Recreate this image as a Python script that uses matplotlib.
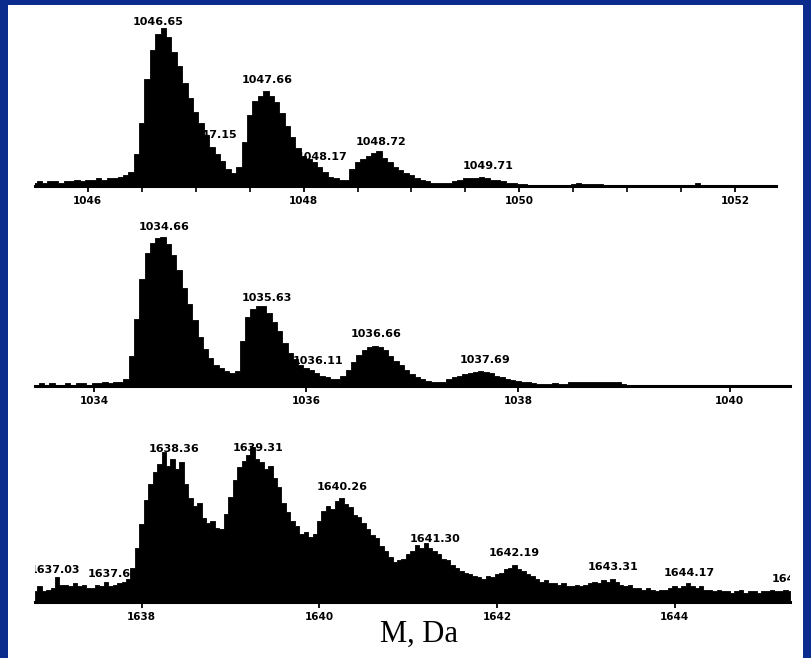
import numpy as np
import matplotlib
matplotlib.use("Agg")
import matplotlib.pyplot as plt
from matplotlib.patches import Rectangle

# ---------------- data ----------------
# panel 1 (profile sampled every 0.05 Da, relative intensity %)
p1_start = 1045.50
p1_step = 0.05
p1_values = [2, 3, 2, 3, 3, 2, 3, 3, 4, 3, 4,
             4, 5, 4, 5, 5, 6, 7,
             9, 20, 40, 68, 86, 96, 100, 94, 85, 76, 65, 56, 47, 40, 32, 25, 20, 16, 11, 8,
             12, 28, 45, 54, 57, 60, 57, 53, 46, 38, 31, 24, 19, 17, 15, 12, 9, 6, 5, 4, 4,
             11, 15, 17, 19, 21, 22, 18, 15, 12, 10, 8, 7, 5, 4, 3,
             2, 2, 2, 2, 3,
             4, 5, 5, 5, 6, 5, 4, 4, 3, 2, 2,
             1.5, 1,
             0.8, 0.5, 0.5, 0.5, 0.5, 0.5, 0.5, 0.5, 1, 2, 1, 1.5, 1, 1.5, 0.5, 0.5, 0.5, 0.5,
             0.5, 0.5, 0.5, 0.5, 0.5, 0.5, 0.5, 0.5, 0.5, 0.5, 0.5, 0.5, 0.5, 2, 0.5, 0.5, 0.5,
             0.5, 0.5, 0.5, 0.5, 0.5, 0.5, 0.5, 0.5, 0.5, 0.5, 0.5, 0.5]
p1_labels = ["1046.65", "1047.15", "1047.66", "1048.17", "1048.72", "1049.71"]
p1_ticks = [1046, 1048, 1050, 1052]
p1_minor = 0.5

# panel 2
p2_start = 1033.45
p2_step = 0.05
p2_values = [1, 2, 1, 2, 1, 1, 2, 1, 2, 2, 1, 2,
             2, 3, 2, 3, 3,
             5, 20, 45, 72, 89, 96, 99, 100, 95, 88, 78, 66, 55, 44, 33, 25, 19, 14, 12, 10, 9,
             10, 30, 46, 52, 54, 54, 49, 43, 37, 29, 22, 18, 14, 12, 11, 9, 7, 6, 4.5, 4.5,
             7, 11, 16, 21, 24, 26, 27, 26, 24, 20, 17, 14, 11, 8, 6, 4.5, 3.5, 3, 2.5,
             3, 4.5, 6, 7, 8, 8.5, 9.5, 10, 9.5, 8.5, 7, 6, 5, 4, 3.5, 3, 2.5, 2,
             1.5, 1.5, 1.5, 2, 1.5, 1.5,
             3, 3, 3, 3, 3, 3, 3, 3, 3, 2.5,
             1.5, 1, 1, 1, 1, 1, 1, 1, 1, 1, 1, 1, 1, 1, 1, 1, 1, 1, 1, 1, 1, 1, 1, 1,
             1, 1, 1, 1, 1, 1, 1, 1]
p2_labels = ["1034.66", "1035.63", "1036.11", "1036.66", "1037.69"]
p2_ticks = [1034, 1036, 1038, 1040]

# panel 3
p3_start = 1636.80
p3_step = 0.05
p3_values = [7, 10, 7, 8, 9, 16, 11, 11, 10, 12, 10, 11, 9, 9, 11, 10, 13, 10, 11, 12,
             13, 15, 22, 35, 50, 66, 76, 84, 89, 97, 88, 92, 86, 90, 76, 67, 62, 64, 54, 51,
             52, 48, 47, 57, 68, 79, 87, 91, 95, 100, 92, 90, 86, 88, 80, 74, 64, 58, 52, 49,
             44, 45, 42, 44, 52, 59, 62, 60, 65, 67, 63, 61, 56, 55, 51, 47, 43, 41, 36, 33,
             29, 26, 27, 28, 31, 33, 37, 35, 38, 35, 33, 31, 28, 27, 24, 22, 20, 19, 18, 17,
             16, 15, 17, 16, 18, 19, 21, 22, 24, 21, 20, 18, 17, 15, 13, 14, 12, 12, 11, 12,
             10, 10, 11, 10, 11, 12, 13, 12, 14, 13, 15, 13, 11, 10, 11, 9, 9, 8, 9, 8,
             7, 8, 8, 9, 10, 9, 10, 12, 10, 9, 10, 8, 8, 7, 8, 7, 7, 6, 7, 8,
             6, 7, 7, 6, 7, 7, 8, 7, 7, 8, 7]
p3_labels = ["1637.03", "1637.68", "1638.36", "1639.31", "1640.26", "1641.30",
             "1642.19", "1643.31", "1644.17", "1645.38"]
p3_ticks = [1638, 1640, 1642, 1644]

x_title = "M, Da"

# ---------------- figure ----------------
W, H = 811, 658
BLUE = "#0b2c8c"
fig = plt.figure(figsize=(W / 100, H / 100), dpi=100)
fig.patch.set_facecolor(BLUE)
fig.add_artist(Rectangle((8 / W, 0), (803 - 8) / W, (H - 5) / H,
                         transform=fig.transFigure, facecolor="white",
                         edgecolor="none", zorder=0))


def make_panel(left, right, top, base, full, start, step, values, labels,
               ticks, xlim, minor=None):
    ax = fig.add_axes([left / W, 1 - base / H, (right - left) / W, (base - top) / H])
    ax.set_facecolor("none")
    vals = np.asarray(values, dtype=float)
    mz = start + step * np.arange(len(vals))
    ax.fill_between(mz, 0, vals, step="mid", color="black", lw=0.6,
                    edgecolor="black", zorder=3)
    for s in ("top", "left", "right"):
        ax.spines[s].set_visible(False)
    ax.spines["bottom"].set_linewidth(2.2)
    ax.spines["bottom"].set_zorder(4)
    ax.set_yticks([])
    ax.set_xticks(ticks)
    ax.set_xticklabels([str(t) for t in ticks], fontsize=7.5, fontweight="bold")
    if minor:
        mt = np.arange(np.ceil(xlim[0] / minor) * minor, xlim[1], minor)
        ax.set_xticks(mt, minor=True)
        ax.tick_params(axis="x", which="minor", direction="out", length=4,
                       width=1.2, color="black")
    ax.tick_params(axis="x", which="major", direction="out", length=4,
                   width=1.3, pad=3, color="black")
    ax.set_xlim(*xlim)
    ax.set_ylim(0, 100 * (base - top) / full)
    for lab in labels:
        m = float(lab)
        yv = np.interp(m, mz, vals)
        ax.annotate(lab, (m, yv), xytext=(0, 5), textcoords="offset points",
                    ha="center", va="bottom", fontsize=8, fontweight="bold",
                    zorder=1, annotation_clip=False, clip_on=True)
    return ax


make_panel(35, 776, 8, 186, 158, p1_start, p1_step, p1_values, p1_labels,
           p1_ticks, (1045.51, 1052.38), minor=p1_minor)
make_panel(35, 790, 212, 386, 149, p2_start, p2_step, p2_values, p2_labels,
           p2_ticks, (1033.44, 1040.57))
make_panel(35, 790, 425, 602, 155, p3_start, p3_step, p3_values, p3_labels,
           p3_ticks, (1636.80, 1645.30))

fig.text(419 / W, 1 - 634 / H, x_title, ha="center", va="center",
         fontsize=22, family="Liberation Serif")

fig.savefig("out.png", dpi=100, facecolor=fig.get_facecolor())
